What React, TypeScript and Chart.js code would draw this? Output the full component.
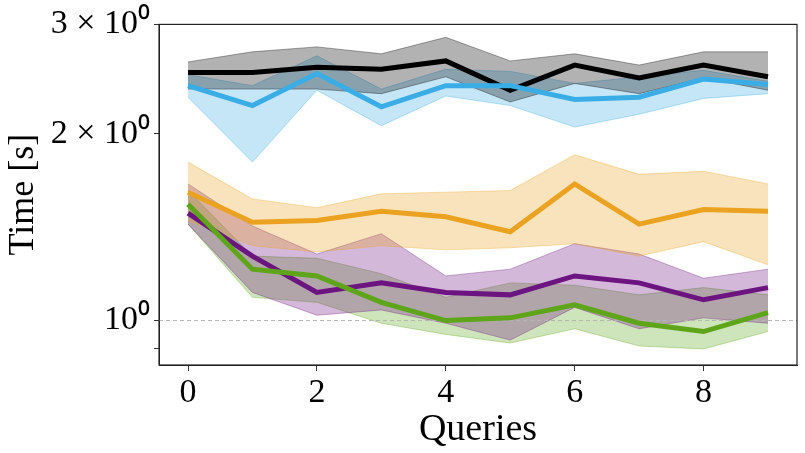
import React, { useEffect, useRef } from 'react';
import { Chart, registerables } from 'chart.js';

Chart.register(...registerables);

const queries = [0, 1, 2, 3, 4, 5, 6, 7, 8, 9];

const blackMean = [2.51, 2.51, 2.56, 2.54, 2.62, 2.35, 2.58, 2.46, 2.58, 2.47];
const blackHi = [2.61, 2.71, 2.76, 2.69, 2.86, 2.62, 2.69, 2.58, 2.71, 2.71];
const blackLo = [2.36, 2.36, 2.36, 2.32, 2.47, 2.25, 2.41, 2.32, 2.46, 2.35];

const blueMean = [2.39, 2.22, 2.5, 2.21, 2.39, 2.39, 2.27, 2.29, 2.45, 2.4];
const blueHi = [2.49, 2.39, 2.67, 2.36, 2.54, 2.52, 2.41, 2.47, 2.53, 2.43];
const blueLo = [2.29, 1.8, 2.35, 2.06, 2.3, 2.22, 2.05, 2.15, 2.28, 2.32];

const orangeMean = [1.61, 1.44, 1.45, 1.5, 1.47, 1.39, 1.66, 1.43, 1.51, 1.5];
const orangeHi = [1.8, 1.57, 1.52, 1.6, 1.61, 1.62, 1.85, 1.72, 1.74, 1.66];
const orangeLo = [1.45, 1.32, 1.29, 1.32, 1.3, 1.31, 1.33, 1.27, 1.34, 1.23];

const purpleMean = [1.49, 1.27, 1.11, 1.15, 1.11, 1.1, 1.18, 1.15, 1.08, 1.13];
const purpleHi = [1.66, 1.42, 1.28, 1.38, 1.18, 1.21, 1.33, 1.28, 1.17, 1.21];
const purpleLo = [1.43, 1.11, 1.02, 1.04, 0.99, 0.93, 1.05, 0.97, 1.01, 0.99];

const greenMean = [1.54, 1.21, 1.18, 1.07, 1.0, 1.01, 1.06, 0.99, 0.96, 1.03];
const greenHi = [1.62, 1.27, 1.26, 1.19, 1.09, 1.15, 1.14, 1.1, 1.13, 1.1];
const greenLo = [1.43, 1.09, 1.07, 0.99, 0.95, 0.92, 0.97, 0.91, 0.9, 0.96];

const xTicks = [0, 2, 4, 6, 8];
const yTicks = [0.9, 1, 2, 3];
const yTickLabels: Record<number, string> = { 0.9: '', 1: '10⁰', 2: '2 × 10⁰', 3: '3 × 10⁰' };
const refLine = 1;

const series = [
  { mean: blackMean, hi: blackHi, lo: blackLo, rgb: '0,0,0' },
  { mean: blueMean, hi: blueHi, lo: blueLo, rgb: '58,173,230' },
  { mean: orangeMean, hi: orangeHi, lo: orangeLo, rgb: '234,162,32' },
  { mean: purpleMean, hi: purpleHi, lo: purpleLo, rgb: '108,20,128' },
  { mean: greenMean, hi: greenHi, lo: greenLo, rgb: '94,165,26' },
];

const pts = (ys: number[]) => ys.map((y, i) => ({ x: queries[i], y }));

const boxPlugin = {
  id: 'box',
  afterDraw(chart: any) {
    const { ctx, chartArea: a } = chart;
    ctx.save();
    ctx.strokeStyle = '#222';
    ctx.lineWidth = 1.2;
    ctx.strokeRect(a.left, a.top, a.right - a.left, a.bottom - a.top);
    ctx.restore();
  },
};

const App: React.FC = () => {
  const ref = useRef<HTMLCanvasElement>(null);

  useEffect(() => {
    if (!ref.current) return;
    const datasets: any[] = [];
    series.forEach((s, k) => {
      const loIdx = datasets.length;
      datasets.push({
        data: pts(s.lo), borderColor: `rgba(${s.rgb},0.35)`, borderWidth: 1,
        pointRadius: 0, fill: false, order: 10 + k,
      });
      datasets.push({
        data: pts(s.hi), borderColor: `rgba(${s.rgb},0.35)`, borderWidth: 1,
        backgroundColor: `rgba(${s.rgb},0.3)`, pointRadius: 0, fill: loIdx, order: 10 + k,
      });
    });
    // dashed reference line at y = 1
    datasets.push({
      data: [{ x: -0.45, y: refLine }, { x: 9.45, y: refLine }],
      borderColor: '#b5b5b5', borderWidth: 1, borderDash: [4, 3], pointRadius: 0, order: 5,
    });
    series.forEach((s, k) => {
      datasets.push({
        data: pts(s.mean), borderColor: `rgb(${s.rgb})`, borderWidth: 5,
        pointRadius: 0, fill: false, order: 4 - k,
      });
    });

    const font = { family: 'Liberation Serif', size: 34 };
    const chart = new Chart(ref.current, {
      type: 'line',
      data: { datasets },
      plugins: [boxPlugin],
      options: {
        animation: false,
        responsive: false,
        layout: { padding: { left: 2, right: 8, top: 19, bottom: 0 } },
        elements: { line: { tension: 0 } },
        plugins: { legend: { display: false }, tooltip: { enabled: false } },
        scales: {
          x: {
            type: 'linear', min: -0.45, max: 9.45,
            afterBuildTicks: (sc: any) => { sc.ticks = xTicks.map(v => ({ value: v })); },
            afterFit: (sc: any) => { sc.height = 88; },
            ticks: { color: '#000', font, padding: 2, maxRotation: 0 },
            grid: { drawOnChartArea: false, tickLength: 6, tickColor: '#333' },
            border: { color: '#222' },
            title: { display: true, text: 'Queries', color: '#000', font: { family: 'Liberation Serif', size: 38 }, padding: 0 },
          },
          y: {
            type: 'logarithmic', min: 0.848, max: 3.0,
            afterBuildTicks: (sc: any) => { sc.ticks = yTicks.map(v => ({ value: v })); },
            afterFit: (sc: any) => { sc.width = 157; },
            ticks: { color: '#000', font, padding: 4, callback: (v: any) => yTickLabels[v as number] ?? '' },
            grid: { drawOnChartArea: false, tickLength: 5, tickColor: '#333' },
            border: { color: '#222' },
            title: { display: true, text: 'Time [s]', color: '#000', font: { family: 'Liberation Serif', size: 36 }, padding: 0 },
          },
        },
      },
    });
    return () => { chart.destroy(); };
  }, []);

  return (
    <div style={{ width: 805, height: 453, background: '#fff' }}>
      <canvas ref={ref} width={805} height={453} style={{ display: 'block' }}></canvas>
    </div>
  );
};

document.body.style.margin = '0';

export default App;
